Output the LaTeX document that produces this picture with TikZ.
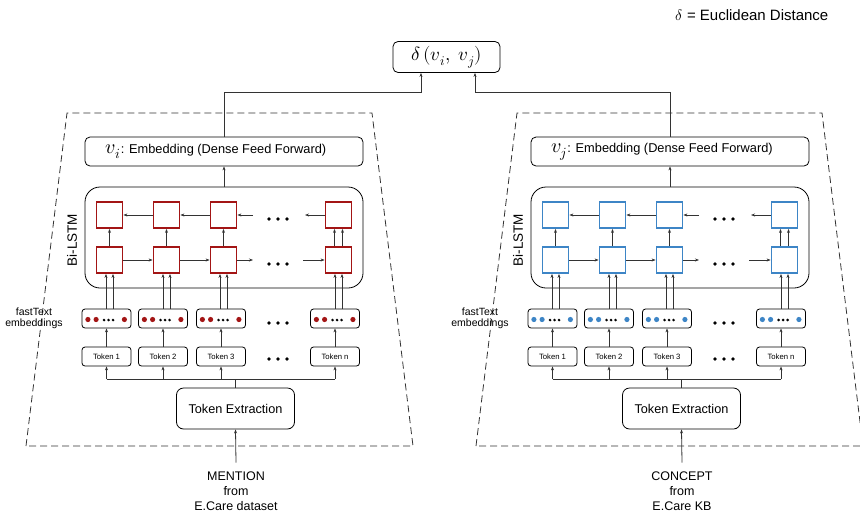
\documentclass[tikz,border=0pt]{standalone}
\usepackage{fontspec}
\setmainfont{Liberation Sans}
\usepackage{unicode-math}
\setmathfont{Latin Modern Math}
\usetikzlibrary{arrows.meta,calc}
\definecolor{redc}{HTML}{A31515}
\definecolor{bluec}{HTML}{3D85C6}
\definecolor{linec}{HTML}{333333}
\begin{document}
\begin{tikzpicture}[x=1pt,y=-1pt,
  arr/.style={draw=linec,line width=0.8pt,-{Stealth[length=4pt,width=3pt]}},
  ln/.style={draw=linec,line width=0.8pt},
  rbox/.style={draw=black,line width=0.8pt,rounded corners=5pt,inner sep=0pt},
  cell/.style={draw=#1,line width=1.8pt,minimum width=26pt,minimum height=26pt,inner sep=0pt},
  ftbox/.style={rbox,rounded corners=3pt,minimum width=49pt,minimum height=19pt},
  tokbox/.style={rbox,rounded corners=3pt,minimum width=49pt,minimum height=19pt,font=\fontsize{7.7}{9}\selectfont},
  dashbox/.style={draw=black!80,line width=0.8pt,dash pattern=on 7pt off 4pt},
]
\useasboundingbox (0,0) rectangle (860,515);

% legend
\node[font=\fontsize{15}{17}\selectfont] (legend) at (752,15) {$\delta$ = Euclidean Distance};

% distance box
\node[rbox,minimum width=107pt,minimum height=31pt,font=\fontsize{19}{21}\selectfont] (delta) at (446.5,57) {$\delta\,(v_i,\; v_j)$};

% dashed trapezoids
\draw[dashbox] (26,446) -- (67,113) -- (372,113) -- (413,446) -- cycle;
\draw[dashbox] (476,446) -- (517,113) -- (822,113) -- (863,446) -- cycle;

\foreach \s/\dx/\col/\vv in {L/0/redc/i, R/446/bluec/j}{
\begin{scope}[xshift=\dx pt]
  \node[rbox,minimum width=278pt,minimum height=29pt,font=\fontsize{12.8}{15}\selectfont] (emb\s) at (224,151.5)
    {{\fontsize{20}{20}\selectfont$v_\vv$}: Embedding (Dense Feed Forward)\hspace*{16pt}};
  \node[rbox,rounded corners=15pt,minimum width=278pt,minimum height=101pt] (lstm\s) at (224,237.5) {};
  \node[rotate=90,font=\fontsize{13.5}{15}\selectfont] (bil\s) at (72,240) {Bi-LSTM};

  \foreach \i/\x in {1/109.5,2/166.5,3/223.5,4/338.5}{
    \node[cell=\col] (t\s\i) at (\x,215) {};
    \node[cell=\col] (b\s\i) at (\x,260) {};
  }
  \foreach \i/\x in {1/106.5,2/163,3/221,4/335}{
    \node[ftbox] (f\s\i) at (\x,318.5) {};
    \node[tokbox] (k\s\i) at (\x,356.5) {Token \ifnum\i=4 n\else\i\fi};
    \fill[\col] ($(f\s\i.west)+(6.3,1)$) circle (2.6pt);
    \fill[\col] ($(f\s\i.west)+(14.5,1)$) circle (2.6pt);
    \fill[black] ($(f\s\i.west)+(22.5,1.5)$) circle (1.4pt);
    \fill[black] ($(f\s\i.west)+(27,1.5)$) circle (1.4pt);
    \fill[black] ($(f\s\i.west)+(31.5,1.5)$) circle (1.4pt);
    \fill[\col] ($(f\s\i.east)+(-7,1)$) circle (2.6pt);
    \draw[arr] (k\s\i.north) -- (f\s\i.south);
  }
  % big dots
  \foreach \y in {219,264,323,359}{
    \foreach \xx in {269,278,287}{ \fill[black] (\xx,\y) circle (1.8pt); }
  }
  \coordinate (ds\s1) at (253,215);
  \coordinate (ds\s2) at (305,215);
  \coordinate (ds\s3) at (253,260);
  \coordinate (ds\s4) at (303,260);
  % top row (backward)
  \draw[arr] (t\s2.west) -- (t\s1.east);
  \draw[arr] (t\s3.west) -- (t\s2.east);
  \draw[arr] (ds\s1) -- (t\s3.east);
  \draw[arr] (t\s4.west) -- (ds\s2);
  % bottom row (forward)
  \draw[arr] (b\s1.east) -- (b\s2.west);
  \draw[arr] (b\s2.east) -- (b\s3.west);
  \draw[arr] (b\s3.east) -- (ds\s3);
  \draw[arr] (ds\s4) -- (b\s4.west);
  % vertical
  \foreach \i in {1,2,3}{ \draw[arr] (b\s\i.north) -- (t\s\i.south); }
  \draw[arr] ([xshift=-4pt]b\s4.north) -- ([xshift=-4pt]t\s4.south);
  \draw[arr] ([xshift=4pt]b\s4.north) -- ([xshift=4pt]t\s4.south);
  % inputs
  \foreach \i in {1,2,3,4}{
    \draw[arr] ([xshift=-3.5pt]b\s\i.south |- f\s\i.north) -- ([xshift=-3.5pt]b\s\i.south);
    \draw[arr] ([xshift=3.5pt]b\s\i.south |- f\s\i.north) -- ([xshift=3.5pt]b\s\i.south);
  }
  \draw[arr] (lstm\s.north) -- (emb\s.south);

  \node[font=\fontsize{10.5}{11.5}\selectfont,align=center] (ftl\s) at (34,318.5) {fastText\\embeddings};

  \node[rbox,rounded corners=7pt,minimum width=118pt,minimum height=41pt,font=\fontsize{12.7}{15}\selectfont] (te\s) at (235.5,408.5) {Token Extraction};
  \coordinate (bus\s) at (236,379);
  \draw[ln] (te\s.north) -- (te\s.north |- bus\s);
  \draw[ln] (k\s1.south |- bus\s) -- (k\s4.south |- bus\s);
  \foreach \i in {1,2,3,4}{ \draw[arr] (k\s\i.south |- bus\s) -- (k\s\i.south); }
\end{scope}
}

\node[font=\fontsize{12.5}{15}\selectfont,align=center,anchor=north,inner sep=0pt] (labL) at (236,471.5) {MENTION\\from\\E.Care dataset};
\node[font=\fontsize{12.5}{15}\selectfont,align=center,anchor=north,inner sep=0pt] (labR) at (682,471.5) {CONCEPT\\from\\E.Care KB};
\draw[arr] ([yshift=9pt]labL.north) -- (teL.south);
\draw[arr] ([yshift=9pt]labR.north) -- (teR.south);

% to distance
\coordinate (jl) at (421,92);
\coordinate (jr) at (475,92);
\draw[arr] (embL.north) |- (jl) -- (jl |- delta.south);
\draw[arr] (embR.north) |- (jr) -- (jr |- delta.south);
\end{tikzpicture}
\end{document}
